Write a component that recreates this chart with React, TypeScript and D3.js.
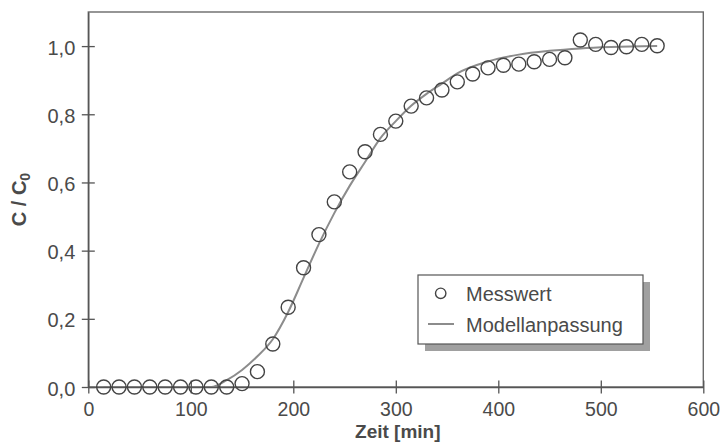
import * as d3 from 'd3'
import { useEffect, useRef } from 'react'

// Messwerte (Zeit in min, C/C0)
const times = [
  15, 30, 45, 60, 75, 90, 105, 120, 135, 150, 165, 180, 195, 210, 225, 240, 255, 270, 285,
  300, 315, 330, 345, 360, 375, 390, 405, 420, 435, 450, 465, 480, 495, 510, 525, 540, 555,
]
const measured = [
  0, 0, 0, 0, 0, 0, 0, 0, 0, 0.01, 0.045, 0.126, 0.234, 0.35, 0.447, 0.543, 0.631, 0.69,
  0.741, 0.78, 0.824, 0.848, 0.871, 0.895, 0.918, 0.936, 0.944, 0.947, 0.954, 0.961, 0.966,
  1.018, 1.005, 0.996, 0.998, 1.005, 1.001,
]

// Modellanpassung
const modelTimes = [
  15, 60, 105, 120, 135, 150, 165, 180, 195, 210, 225, 240, 255, 270, 285, 300, 315, 330,
  345, 360, 390, 420, 450, 480, 510, 555,
]
const modelValues = [
  0, 0, 0, 0, 0.02, 0.05, 0.09, 0.14, 0.22, 0.32, 0.42, 0.51, 0.59, 0.66, 0.73, 0.78, 0.825,
  0.86, 0.89, 0.92, 0.955, 0.975, 0.986, 0.993, 0.997, 1.0,
]

const xTicks = [0, 100, 200, 300, 400, 500, 600]
const yTicks = [0, 0.2, 0.4, 0.6, 0.8, 1.0]
const legendLabels = ['Messwert', 'Modellanpassung']

const FONT = '"Liberation Sans", Arial, Helvetica, sans-serif'
const TEXT = '#4a4a4a'

const App = () => {
  const ref = useRef<SVGSVGElement>(null)

  useEffect(() => {
    const width = 722
    const height = 443
    const svg = d3.select(ref.current)
    svg.selectAll('*').remove()
    svg.attr('width', width).attr('height', height)

    svg.append('rect').attr('width', width).attr('height', height).attr('fill', '#fff')

    const x = d3.scaleLinear().domain([0, 600]).range([88.3, 703.3])
    const y = d3.scaleLinear().domain([0, 1.1]).range([387, 12])
    const fmt = (v: number) => d3.format('.1f')(v).replace('.', ',')

    // frame
    svg
      .append('rect')
      .attr('x', x(0))
      .attr('y', y(1.1))
      .attr('width', x(600) - x(0))
      .attr('height', y(0) - y(1.1))
      .attr('fill', 'none')
      .attr('stroke', '#6a6a6a')
      .attr('stroke-width', 1.4)

    // model curve
    const line = d3
      .line<number>()
      .x((d, i) => x(modelTimes[i]))
      .y((d) => y(d))
      .curve(d3.curveMonotoneX)
    svg
      .append('path')
      .attr('d', line(modelValues))
      .attr('fill', 'none')
      .attr('stroke', '#8c8c8c')
      .attr('stroke-width', 2)

    // X axis
    const gx = svg
      .append('g')
      .attr('transform', `translate(0, ${y(0)})`)
      .call(d3.axisBottom(x).tickValues(xTicks).tickFormat(d3.format('d')).tickSizeOuter(0))
    gx.select('.domain').attr('stroke', '#555').attr('stroke-width', 1.4)
    gx.selectAll('.tick line').attr('y1', -6.5).attr('y2', 6.5).attr('stroke', '#555').attr('stroke-width', 1.3)
    gx.selectAll('.tick text')
      .attr('y', 28.5)
      .attr('dy', 0)
      .attr('fill', TEXT)
      .style('font-family', FONT)
      .style('font-size', '19.5px')

    // Y axis
    const gy = svg
      .append('g')
      .attr('transform', `translate(${x(0)}, 0)`)
      .call(d3.axisLeft(y).tickValues(yTicks).tickFormat((d) => fmt(d as number)).tickSizeOuter(0))
    gy.select('.domain').attr('stroke', '#555').attr('stroke-width', 1.4)
    gy.selectAll('.tick line').attr('x1', -6.5).attr('x2', 6.5).attr('stroke', '#555').attr('stroke-width', 1.3)
    gy.selectAll('.tick text')
      .attr('x', -13)
      .attr('dy', '0.4em')
      .attr('fill', TEXT)
      .style('font-family', FONT)
      .style('font-size', '20px')

    // data points
    svg
      .append('g')
      .selectAll('circle')
      .data(measured)
      .join('circle')
      .attr('cx', (d, i) => x(times[i]))
      .attr('cy', (d) => y(d))
      .attr('r', 7)
      .attr('fill', 'none')
      .attr('stroke', '#444')
      .attr('stroke-width', 1.4)

    // axis titles
    svg
      .append('text')
      .attr('x', (x(0) + x(600)) / 2 + 2)
      .attr('y', 437.5)
      .attr('text-anchor', 'middle')
      .attr('fill', TEXT)
      .style('font-family', FONT)
      .style('font-size', '19px')
      .style('font-weight', 'bold')
      .text('Zeit [min]')

    const yt = svg
      .append('text')
      .attr('transform', `translate(26, ${(y(0) + y(1.1)) / 2}) rotate(-90)`)
      .attr('text-anchor', 'middle')
      .attr('fill', TEXT)
      .style('font-family', FONT)
      .style('font-size', '20px')
      .style('font-weight', 'bold')
    yt.append('tspan').text('C / C')
    yt.append('tspan').attr('dy', 4).style('font-size', '14px').text('0')

    // legend
    const lg = svg.append('g').attr('transform', 'translate(418, 275)')
    lg.append('rect')
      .attr('x', 7)
      .attr('y', 7)
      .attr('width', 225)
      .attr('height', 69)
      .attr('fill', '#a0a0a0')
    lg.append('rect')
      .attr('width', 225)
      .attr('height', 69)
      .attr('fill', '#fff')
      .attr('stroke', '#555')
      .attr('stroke-width', 1.2)
    lg.append('circle')
      .attr('cx', 22.7)
      .attr('cy', 18.3)
      .attr('r', 5.2)
      .attr('fill', 'none')
      .attr('stroke', '#444')
      .attr('stroke-width', 1.4)
    lg.append('line')
      .attr('x1', 10)
      .attr('x2', 36)
      .attr('y1', 49)
      .attr('y2', 49)
      .attr('stroke', '#8c8c8c')
      .attr('stroke-width', 2)
    lg.selectAll('text.lab')
      .data(legendLabels)
      .join('text')
      .attr('class', 'lab')
      .attr('x', 48)
      .attr('y', (d, i) => 25.5 + i * 31)
      .attr('fill', TEXT)
      .style('font-family', FONT)
      .style('font-size', '20px')
      .text((d) => d)
  }, [])

  return (
    <div style={{ position: 'absolute', left: 0, top: 0 }}>
      <svg ref={ref} style={{ display: 'block' }}></svg>
    </div>
  )
}

export default App
